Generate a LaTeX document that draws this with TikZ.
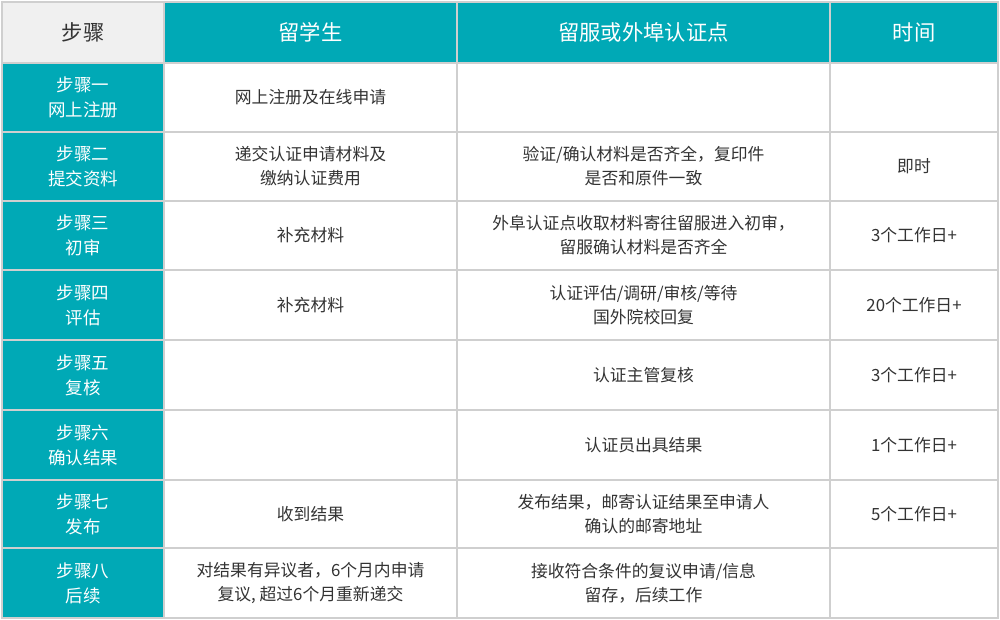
\documentclass[tikz,border=0pt]{standalone}
\usepackage{fontspec}
\setmainfont{Noto Sans CJK SC}
\definecolor{teal1}{HTML}{00A9B6}
\definecolor{gridc}{HTML}{CFCFCF}
\definecolor{txt}{HTML}{333333}
\definecolor{hdgray}{HTML}{F0F0F0}
\tikzset{
  cell/.style={align=center, text=txt, font=\fontsize{16.8}{24}\selectfont, inner sep=0pt},
  stepcell/.style={align=center, text=white, font=\fontsize{17.5}{25}\selectfont, inner sep=0pt},
  headcell/.style={align=center, text=white, font=\fontsize{21.3}{24}\selectfont, inner sep=0pt},
  gridline/.style={draw=gridc, line width=2pt}
}
\begin{document}
\begin{tikzpicture}[x=1pt,y=-1pt]
\useasboundingbox (0,0) rectangle (1000,620);
\fill[white] (0,0) rectangle (1000,620);
% fills
\fill[hdgray] (2,2) rectangle (164,63);
\fill[teal1] (164,2) rectangle (998,63);
\fill[teal1] (2,63) rectangle (164,618);
% grid
\foreach \y in {2,63,132,201,270,340,410,480,548,618} {
  \draw[gridline] (1,\y) -- (999,\y);
}
\foreach \x in {2,164,457,830,998} {
  \draw[gridline] (\x,1) -- (\x,619);
}
% header
\node[cell, font=\fontsize{21.3}{24}\selectfont] (h1) at (83,32.5) {步骤};
\node[headcell] (h2) at (310.5,32.5) {留学生};
\node[headcell] (h3) at (643.5,32.5) {留服或外埠认证点};
\node[headcell] (h4) at (914,32.5) {时间};
% step column
\node[stepcell] (s1) at (83,97.5) {步骤一\\网上注册};
\node[stepcell] (s2) at (83,166.5) {步骤二\\提交资料};
\node[stepcell] (s3) at (83,235.5) {步骤三\\初审};
\node[stepcell] (s4) at (83,305) {步骤四\\评估};
\node[stepcell] (s5) at (83,375) {步骤五\\复核};
\node[stepcell] (s6) at (83,445) {步骤六\\确认结果};
\node[stepcell] (s7) at (83,514) {步骤七\\发布};
\node[stepcell] (s8) at (83,583) {步骤八\\后续};
% student column
\node[cell] (a1) at (310.5,97.5) {网上注册及在线申请};
\node[cell] (a2) at (310.5,166.5) {递交认证申请材料及\\缴纳认证费用};
\node[cell] (a3) at (310.5,235.5) {补充材料};
\node[cell] (a4) at (310.5,305) {补充材料};
\node[cell] (a7) at (310.5,514) {收到结果};
\node[cell] (a8) at (310.5,583) {对结果有异议者，6个月内申请\\复议, 超过6个月重新递交};
% center column
\node[cell] (b2) at (643.5,166.5) {验证/确认材料是否齐全，复印件\\是否和原件一致};
\node[cell] (b3) at (643.5,235.5) {外阜认证点收取材料寄往留服进入初审，\\留服确认材料是否齐全};
\node[cell] (b4) at (643.5,305) {认证评估/调研/审核/等待\\国外院校回复};
\node[cell] (b5) at (643.5,375) {认证主管复核};
\node[cell] (b6) at (643.5,445) {认证员出具结果};
\node[cell] (b7) at (643.5,514) {发布结果，邮寄认证结果至申请人\\确认的邮寄地址};
\node[cell] (b8) at (643.5,583) {接收符合条件的复议申请/信息\\留存，后续工作};
% time column
\node[cell] (t2) at (914,166.5) {即时};
\node[cell] (t3) at (914,235.5) {3个工作日+};
\node[cell] (t4) at (914,305) {20个工作日+};
\node[cell] (t5) at (914,375) {3个工作日+};
\node[cell] (t6) at (914,445) {1个工作日+};
\node[cell] (t7) at (914,514) {5个工作日+};
\end{tikzpicture}
\end{document}
